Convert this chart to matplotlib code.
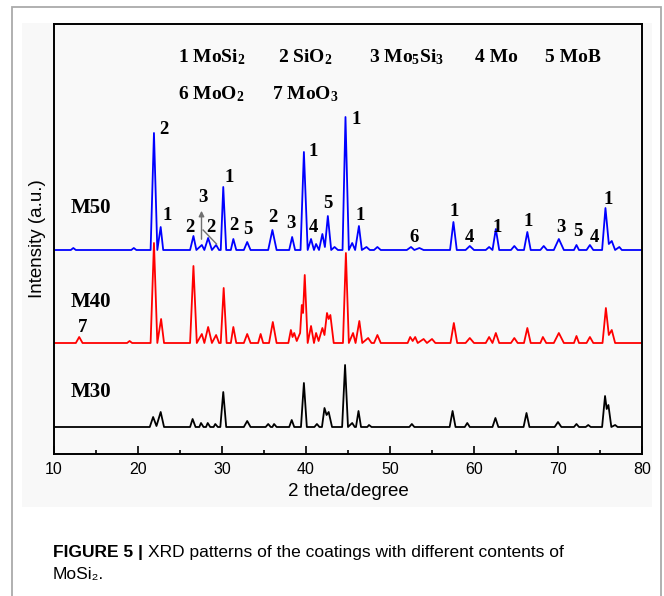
import matplotlib

matplotlib.use("Agg")
import matplotlib.pyplot as plt
from matplotlib.patches import Rectangle

# XRD patterns: (2 theta, net intensity above baseline)
M50_PROFILE = [
    (10.0, 0), (12.0, 0), (12.3, 2), (12.6, 0), (19.2, 0), (19.5, 2), (19.8, 0),
    (21.5, 0), (21.9, 117), (22.3, 0), (22.7, 23), (23.0, 0),
    (26.2, 0), (26.6, 14), (26.95, 0), (27.6, 5), (27.9, 0), (28.35, 12), (28.8, 0),
    (29.3, 5), (29.65, 0), (29.85, 0), (30.15, 63), (30.5, 0), (31.05, 0), (31.35, 11), (31.7, 0),
    (32.6, 0), (33.0, 8), (33.4, 0), (35.5, 0), (36.0, 20), (36.5, 0),
    (38.0, 0), (38.35, 13), (38.7, 0), (39.35, 0), (39.75, 98), (40.2, 0),
    (40.6, 11), (40.95, 0), (41.2, 6), (41.55, 0), (41.95, 16), (42.25, 3), (42.6, 34), (43.0, 0),
    (43.4, 3), (43.8, 0), (44.35, 0), (44.7, 133), (45.1, 0), (45.5, 7), (45.85, 0),
    (46.3, 24), (46.65, 0), (47.2, 3), (47.6, 0), (48.1, 0), (48.5, 3), (48.9, 0),
    (52.0, 0), (52.5, 3), (52.9, 0), (53.5, 2), (54.0, 0),
    (57.15, 0), (57.55, 28), (57.95, 0), (59.0, 0), (59.5, 4), (60.0, 0),
    (61.4, 0), (61.8, 3), (62.2, 0), (62.6, 21), (63.0, 0), (64.4, 0), (64.8, 4), (65.2, 0),
    (65.95, 0), (66.35, 18), (66.75, 0), (67.9, 0), (68.3, 4), (68.7, 0),
    (69.5, 0), (70.1, 11), (70.7, 0), (71.9, 0), (72.2, 5), (72.5, 0), (73.4, 0), (73.8, 5), (74.2, 0),
    (75.25, 0), (75.65, 42), (76.05, 6), (76.4, 9), (76.8, 0), (77.3, 3), (77.6, 0), (80.0, 0),
]

M40_PROFILE = [
    (10.0, 0), (12.6, 0), (13.0, 6), (13.4, 0), (18.7, 0), (19.0, 2), (19.3, 0),
    (21.5, 0), (21.9, 100), (22.3, 0), (22.75, 24), (23.1, 0),
    (26.2, 0), (26.6, 77), (27.0, 0), (27.6, 9), (27.9, 0), (28.35, 16), (28.8, 0),
    (29.3, 8), (29.65, 0), (29.85, 0), (30.2, 55), (30.55, 0), (31.05, 0), (31.35, 16), (31.7, 0),
    (32.6, 0), (33.0, 9), (33.4, 0), (34.3, 0), (34.6, 9), (34.9, 0), (35.6, 0), (36.05, 21), (36.5, 0),
    (37.9, 0), (38.2, 13), (38.4, 6), (38.6, 10), (38.9, 2), (39.3, 10), (39.5, 38), (39.65, 30),
    (39.85, 68), (40.2, 0), (40.6, 17), (40.95, 0), (41.2, 10), (41.5, 2), (41.95, 15), (42.2, 8),
    (42.5, 30), (42.7, 24), (42.9, 28), (43.3, 0), (44.4, 0), (44.75, 90), (45.1, 0),
    (45.6, 10), (45.9, 0), (46.35, 22), (46.7, 0), (47.4, 5), (47.8, 0), (48.1, 0), (48.5, 8), (48.9, 0),
    (52.1, 0), (52.4, 6), (52.7, 2), (53.0, 6), (53.3, 0), (54.0, 4), (54.4, 0), (55.0, 4), (55.4, 0),
    (57.2, 0), (57.6, 20), (58.0, 0), (59.0, 0), (59.5, 5), (60.0, 0),
    (61.4, 0), (61.8, 6), (62.2, 0), (62.6, 10), (63.0, 0), (64.4, 0), (64.8, 5), (65.2, 0),
    (65.95, 0), (66.35, 15), (66.75, 0), (67.9, 0), (68.2, 6), (68.6, 0),
    (69.5, 0), (70.1, 10), (70.7, 0), (71.9, 0), (72.2, 7), (72.5, 0), (73.4, 0), (73.8, 6), (74.2, 0),
    (75.3, 0), (75.7, 35), (76.05, 8), (76.4, 13), (76.8, 0), (80.0, 0),
]

M30_PROFILE = [
    (10.0, 0), (21.4, 0), (21.8, 10), (22.2, 1), (22.7, 15), (23.1, 0),
    (26.2, 0), (26.5, 8), (26.85, 0), (27.3, 0), (27.5, 4), (27.8, 0), (28.1, 0), (28.3, 4), (28.6, 0),
    (29.0, 0), (29.2, 3), (29.5, 0), (29.8, 0), (30.15, 35), (30.5, 0),
    (32.6, 0), (33.0, 6), (33.4, 0), (35.2, 0), (35.5, 3), (35.8, 0), (36.0, 0), (36.2, 3), (36.5, 0),
    (38.0, 0), (38.3, 7), (38.6, 0), (39.4, 0), (39.75, 44), (40.1, 0), (41.0, 0), (41.3, 3), (41.6, 0),
    (41.9, 0), (42.2, 19), (42.45, 12), (42.7, 15), (43.1, 0), (44.3, 0), (44.65, 62), (45.0, 0),
    (45.5, 4), (45.8, 0), (45.95, 0), (46.25, 16), (46.55, 0), (47.3, 0), (47.5, 2), (47.8, 0),
    (52.3, 0), (52.6, 3), (52.9, 0), (57.1, 0), (57.45, 16), (57.8, 0), (58.9, 0), (59.2, 4), (59.5, 0),
    (62.2, 0), (62.55, 9), (62.9, 0), (65.9, 0), (66.25, 14), (66.6, 0), (69.6, 0), (70.0, 5), (70.4, 0),
    (71.9, 0), (72.2, 3), (72.5, 0), (73.3, 0), (73.6, 2), (73.9, 0),
    (75.25, 0), (75.6, 31), (75.8, 18), (76.0, 22), (76.35, 0), (76.8, 2), (77.1, 0), (80.0, 0),
]

SAMPLES = ["M30", "M40", "M50"]
OFFSETS = [27, 111, 204]
COLORS = ["black", "#ff0000", "#0000ff"]

# phase index labels on the M50 pattern: (text, 2 theta, height in plot units)
PEAK_LABELS = [
    ("2", 23.05, 324), ("1", 23.45, 239), ("2", 26.2, 227), ("3", 27.75, 256),
    ("2", 28.7, 227), ("1", 30.9, 277), ("2", 31.4, 228), ("5", 33.05, 224),
    ("2", 36.05, 236), ("3", 38.2, 231), ("1", 40.85, 302), ("4", 40.85, 227),
    ("5", 42.6, 250), ("1", 45.95, 334), ("1", 46.45, 239), ("6", 52.85, 217),
    ("1", 57.6, 242), ("4", 59.4, 217), ("1", 62.8, 227), ("1", 66.5, 233),
    ("3", 70.3, 226), ("5", 72.4, 222), ("4", 74.35, 216), ("1", 75.95, 255),
    ("7", 13.45, 126),
]

PHASE_ROW1 = [("1 MoSi$_2$", 24.8), ("2 SiO$_2$", 36.7), ("3 Mo$_5$Si$_3$", 47.45),
              ("4 Mo", 60.1), ("5 MoB", 68.45)]
PHASE_ROW2 = [("6 MoO$_2$", 24.8), ("7 MoO$_3$", 35.95)]

plt.rcParams["mathtext.fontset"] = "custom"
plt.rcParams["mathtext.rm"] = "Liberation Serif:bold"
plt.rcParams["mathtext.it"] = "Liberation Serif:bold"
plt.rcParams["mathtext.bf"] = "Liberation Serif:bold"

fig = plt.figure(figsize=(6.64, 5.96), dpi=100)
fig.patch.set_facecolor("white")

W, H = 664, 596
fig.add_artist(Rectangle((12 / W, -0.05), 649 / W, 1.05 - 7 / H, transform=fig.transFigure,
                         facecolor="none", edgecolor="#aaaaaa", linewidth=1.3, zorder=-2))
fig.add_artist(Rectangle((22 / W, 1 - 507 / H), 630 / W, 484 / H, transform=fig.transFigure,
                         facecolor="#f8f8f8", edgecolor="none", zorder=-1))

ax = fig.add_axes([54 / W, 1 - 454 / H, 588 / W, 430 / H])
ax.set_facecolor("#f9f9f9")

for name, offset, color, profile in zip(SAMPLES, OFFSETS, COLORS,
                                        [M30_PROFILE, M40_PROFILE, M50_PROFILE]):
    x = [p[0] for p in profile]
    y = [p[1] + offset for p in profile]
    ax.plot(x, y, color=color, linewidth=1.3)

serif = "Liberation Serif"
for text, xv, yv in PEAK_LABELS:
    ax.text(xv, yv, text, fontsize=13.5, fontweight="bold", family=serif,
            ha="center", va="center")

for name, yv in zip(SAMPLES, [62, 152, 246]):
    ax.text(14.4, yv, name, fontsize=15, fontweight="bold", family=serif,
            ha="center", va="center")

for text, xv in PHASE_ROW1:
    ax.text(xv, 392, text, fontsize=14, fontweight="bold", family=serif,
            ha="left", va="baseline")
for text, xv in PHASE_ROW2:
    ax.text(xv, 355, text, fontsize=14, fontweight="bold", family=serif,
            ha="left", va="baseline")

# Mo5Si3 marker arrow and pointer line
ax.annotate("", xy=(27.56, 246), xytext=(27.56, 212),
            arrowprops=dict(arrowstyle="-|>", color="#707070", lw=1.0, mutation_scale=8))
ax.plot([27.75, 29.35], [224, 210], color="#707070", linewidth=1.0)

ax.set_xlim(10, 80)
ax.set_ylim(0, 430)
ax.set_xticks(range(10, 81, 10))
ax.set_xticks(range(15, 80, 10), minor=True)
ax.tick_params(axis="x", which="major", direction="in", length=5.5, width=1.2,
               labelsize=11.5, pad=6)
ax.tick_params(axis="x", which="minor", direction="in", length=3, width=1.2)
ax.set_yticks([])
for spine in ax.spines.values():
    spine.set_linewidth(1.4)
ax.set_xlabel("2 theta/degree", fontsize=13.5, family="Liberation Sans", labelpad=4)
ax.set_ylabel("Intensity (a.u.)", fontsize=13.5, family="Liberation Sans", labelpad=6)
for lab in ax.get_xticklabels():
    lab.set_family("Liberation Sans")

# caption below the figure panel
cap_family = ["Liberation Sans", "DejaVu Sans"]
head = fig.text(53 / W, 1 - 552 / H, "FIGURE 5 |", fontsize=12.5, fontweight="bold",
                family=cap_family, ha="left", va="center")
renderer = fig.canvas.get_renderer()
head_box = head.get_window_extent(renderer)
fig.text(head_box.x1 / W + 5 / W, 1 - 552 / H,
         "XRD patterns of the coatings with different contents of",
         fontsize=12.5, family=cap_family, ha="left", va="center")
fig.text(53 / W, 1 - 575 / H, "MoSi\u2082.", fontsize=12.5, family=cap_family,
         ha="left", va="center")

fig.savefig("out.png", dpi=100)
